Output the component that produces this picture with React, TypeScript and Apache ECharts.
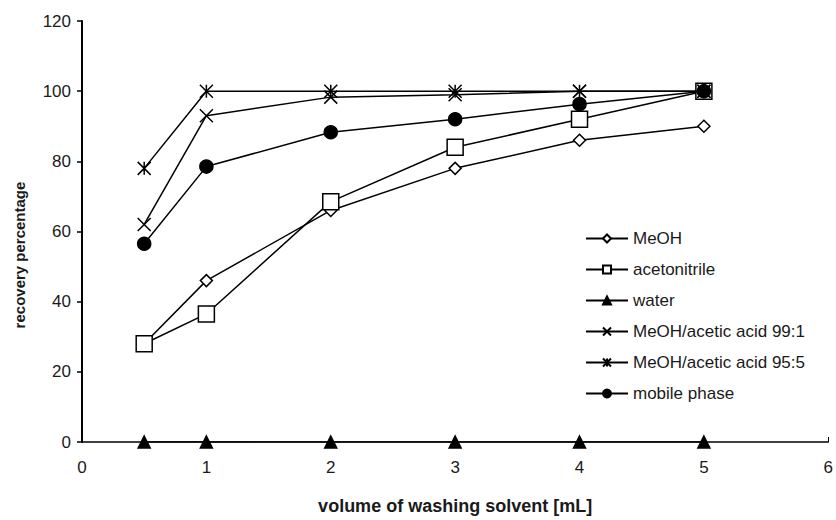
import React, { useEffect, useRef } from "react";
import * as echarts from "echarts";

const volumes = [0.5, 1, 2, 3, 4, 5];
const meoh = [28, 46, 66, 78, 86, 90];
const acetonitrile = [28, 36.5, 68.5, 84, 92, 100];
const water = [0, 0, 0, 0, 0, 0];
const acid99 = [62, 93, 98.3, 99, 100, 100];
const acid95 = [78, 100, 100, 100, 100, 100];
const mobilePhase = [56.5, 78.5, 88.3, 92, 96.3, 100];
const seriesNames = [
  "MeOH",
  "acetonitrile",
  "water",
  "MeOH/acetic acid 99:1",
  "MeOH/acetic acid 95:5",
  "mobile phase",
];
const yTitle = "recovery percentage";
const xTitle = "volume of washing solvent [mL]";

const X_PATH = "path://M0,0 L10,10 M10,0 L0,10";
const STAR_PATH = "path://M0,0 L10,10 M10,0 L0,10 M5,0 L5,10";

export default function App() {
  const ref = useRef<HTMLDivElement>(null);
  useEffect(() => {
    if (!ref.current) return;
    const chart = echarts.init(ref.current, undefined, { renderer: "svg" });
    const pair = (ys: number[]) => volumes.map((x, i) => [x, ys[i]]);
    const font = "Arial, 'Liberation Sans', sans-serif";
    const mk = (
      name: string,
      ys: number[],
      symbol: string,
      size: number,
      fill: string,
      z: number
    ) => ({
      name,
      type: "line",
      data: pair(ys),
      symbol,
      symbolSize: size,
      showAllSymbol: true,
      z,
      lineStyle: { color: "#000", width: 1.5 },
      itemStyle: { color: fill, borderColor: "#000", borderWidth: 1.5 },
      emphasis: { disabled: true },
    });
    chart.setOption({
      animation: false,
      backgroundColor: "#fff",
      textStyle: { fontFamily: font },
      grid: { left: 82, right: 6, top: 21, bottom: 72 },
      legend: {
        orient: "vertical",
        left: 580,
        top: 225,
        itemWidth: 42,
        itemHeight: 10,
        itemGap: 14,
        textStyle: { fontSize: 17, color: "#1a1a1a", fontFamily: font },
        data: seriesNames,
      },
      graphic: [
        {
          type: "text",
          x: 19,
          y: 255,
          rotation: Math.PI / 2,
          style: {
            text: yTitle,
            fontSize: 15,
            fontWeight: "bold",
            fill: "#1a1a1a",
            fontFamily: font,
            align: "center",
            verticalAlign: "middle",
          },
        },
      ],
      xAxis: {
        type: "value",
        min: 0,
        max: 6,
        interval: 1,
        name: xTitle,
        nameLocation: "middle",
        nameGap: 55,
        nameTextStyle: { fontSize: 18, fontWeight: "bold", color: "#1a1a1a" },
        axisLine: { lineStyle: { color: "#000", width: 1.5 } },
        axisTick: { show: true, inside: true, length: 5, lineStyle: { color: "#000" } },
        axisLabel: { fontSize: 17, color: "#1a1a1a", margin: 17 },
        splitLine: { show: false },
      },
      yAxis: {
        type: "value",
        min: 0,
        max: 120,
        interval: 20,
        axisLine: { show: true, lineStyle: { color: "#000", width: 2 } },
        axisTick: { show: true, length: 5, lineStyle: { color: "#000", width: 1.5 } },
        axisLabel: { fontSize: 17, color: "#1a1a1a", margin: 11 },
        splitLine: { show: false },
      },
      series: [
        mk(seriesNames[0], meoh, "diamond", 12, "#fff", 3),
        mk(seriesNames[1], acetonitrile, "rect", 16, "#fff", 4),
        mk(seriesNames[2], water, "triangle", 12, "#000", 5),
        mk(seriesNames[3], acid99, X_PATH, 13, "none", 6),
        mk(seriesNames[4], acid95, STAR_PATH, 13, "none", 7),
        mk(seriesNames[5], mobilePhase, "circle", 13, "#000", 8),
      ],
    });
    return () => chart.dispose();
  }, []);
  return <div ref={ref} style={{ width: 836, height: 520, position: "absolute", left: 0, top: 0 }} />;
}
